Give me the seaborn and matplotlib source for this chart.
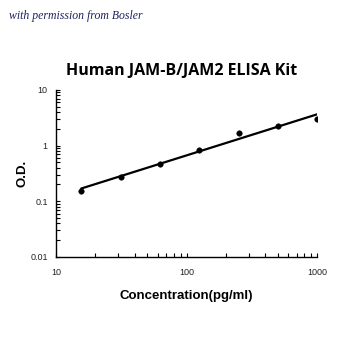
import numpy as np
import pandas as pd
import matplotlib
matplotlib.use("Agg")
import matplotlib.pyplot as plt
import seaborn as sns
from matplotlib.ticker import LogLocator, FixedLocator, FixedFormatter, NullFormatter

conc = [15.6, 31.25, 62.5, 125, 250, 500, 1000]
od = [0.155, 0.275, 0.47, 0.82, 1.7, 2.25, 2.95]
x_ticks = [10, 100, 1000]
x_tick_labels = ["10", "100", "1000"]
y_ticks = [0.01, 0.1, 1, 10]
y_tick_labels = ["0.01", "0.1", "1", "10"]

sns.set_theme(style="ticks")
plt.rcParams['font.family'] = ['Liberation Sans', 'DejaVu Sans']

df = pd.DataFrame({"conc": conc, "od": od})
coef = np.polyfit(np.log10(df["conc"]), np.log10(df["od"]), 1)
fit_x = np.array([min(conc), max(conc)])
fit_df = pd.DataFrame({"conc": fit_x, "od": 10 ** np.polyval(coef, np.log10(fit_x))})

fig = plt.figure(figsize=(3.5, 3.5), dpi=100)
ax = fig.add_axes([0.16, 0.266, 0.746, 0.477])
ax.set_xscale("log")
ax.set_yscale("log")
sns.lineplot(data=fit_df, x="conc", y="od", ax=ax, color="black", linewidth=1.6)
sns.scatterplot(data=df, x="conc", y="od", ax=ax, color="black", s=16, edgecolor="black", zorder=3)
ax.set_xlim(10, 1000)
ax.set_ylim(0.01, 10)

ax.xaxis.set_major_locator(FixedLocator(x_ticks))
ax.xaxis.set_major_formatter(FixedFormatter(x_tick_labels))
ax.xaxis.set_minor_locator(LogLocator(base=10, subs=np.arange(2, 10)))
ax.xaxis.set_minor_formatter(NullFormatter())
ax.yaxis.set_major_locator(FixedLocator(y_ticks))
ax.yaxis.set_major_formatter(FixedFormatter(y_tick_labels))
ax.yaxis.set_minor_locator(LogLocator(base=10, subs=np.arange(2, 10)))
ax.yaxis.set_minor_formatter(NullFormatter())
ax.tick_params(which="both", direction="in", length=3, width=0.8, color="black",
               labelsize=6.5, labelcolor="#222222")
ax.tick_params(axis="x", which="both", pad=8)
ax.tick_params(axis="y", which="both", pad=6)
for s in ["top", "right"]:
    ax.spines[s].set_visible(False)
for s in ["left", "bottom"]:
    ax.spines[s].set_color("black")
    ax.spines[s].set_linewidth(1.0)

ax.set_xlabel("Concentration(pg/ml)", fontsize=9.5, fontweight="bold", labelpad=9, color="black")
ax.set_ylabel("O.D.", fontsize=9.5, fontweight="bold", labelpad=1, color="black")
fig.text(0.52, 0.796, "Human JAM-B/JAM2 ELISA Kit", ha="center", va="center",
         fontsize=11.5, fontweight="bold", color="black", family=["Open Sans", "DejaVu Sans"])
fig.text(0.027, 0.953, "with permission from Bosler", ha="left", va="center",
         fontsize=8.5, style="italic", color="#1c2260", family=["Liberation Serif", "DejaVu Serif"])

fig.savefig("out.png", dpi=100, facecolor="white")
